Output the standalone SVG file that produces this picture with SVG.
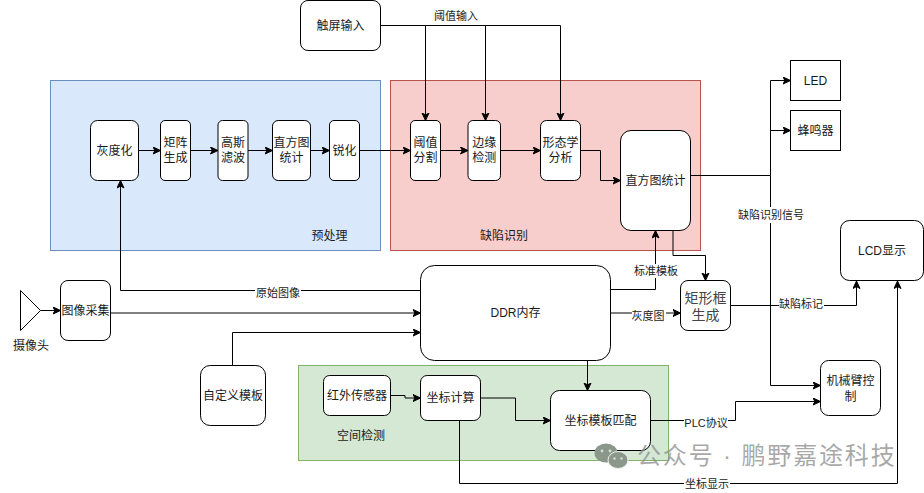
<svg xmlns="http://www.w3.org/2000/svg" width="924" height="493" viewBox="0 0 924 493">
<style>
text{font-family:"Liberation Sans","Noto Sans CJK SC",sans-serif;font-size:12px;fill:#1a1a1a;text-anchor:middle;dominant-baseline:central}
.n{fill:#fff;stroke:#000;stroke-width:1}
.c{fill:none;stroke:#000;stroke-width:1;marker-end:url(#a)}
.l{font-size:11px}
.b{fill:#fff}
.wm{font-size:24px;fill:#8c8c8c;fill-opacity:.75;text-anchor:start;letter-spacing:1.85px}
</style>
<defs>
<marker id="a" markerUnits="userSpaceOnUse" markerWidth="9" markerHeight="9" refX="8" refY="4" orient="auto">
<path d="M0.5,0.5 L8,4 L0.5,7.5 L2.4,4 Z" fill="#000" stroke="#000" stroke-width="1"/>
</marker>
</defs>
<rect id="group-pre" x="50.5" y="80.5" width="330" height="170" fill="#dae8fc" stroke="#6c8ebf"/>
<rect id="group-defect" x="390.5" y="80.5" width="310" height="170" fill="#f8cecc" stroke="#b85450"/>
<rect id="group-space" x="298.5" y="365.5" width="370" height="95" fill="#d5e8d4" stroke="#82b366"/>
<text x="329.5" y="235.5">预处理</text>
<text x="504" y="235.5">缺陷识别</text>
<text x="361" y="436">空间检测</text>
<g id="connectors">
<path class="c" d="M138.5,150.5H160.5"/>
<path class="c" d="M190.5,150.5H218"/>
<path class="c" d="M248,150.5H272.5"/>
<path class="c" d="M310.5,150.5H329.5"/>
<path class="c" d="M359.5,150.5H410.5"/>
<path class="c" d="M440.5,150.5H468"/>
<path class="c" d="M500.5,150.5H540.5"/>
<path class="c" d="M580.5,150.5H600.5V180.5H620.5"/>
<path class="c" d="M380.5,25.5H425.5V120.5"/>
<path class="c" d="M380.5,25.5H485.5V120.5"/>
<path class="c" d="M380.5,25.5H560.5V120.5"/>
<path class="c" d="M690.5,175.5H770.5V80.5H790.5"/>
<path class="c" d="M770.5,130.5H790.5"/>
<path class="c" d="M770.5,175.5V385.5H820.5"/>
<path class="c" d="M673,230.5V255.5H705.5V280.5"/>
<path class="c" d="M610.5,289.5H655.5V230.5"/>
<path class="c" d="M610.5,313H680.5"/>
<path class="c" d="M730.5,305.5H856.5V281"/>
<path class="c" d="M459.5,420.5V483.5H897.5V281"/>
<path class="c" d="M650.5,420.5H735.5V401.5H820.5"/>
<path class="c" d="M587.5,360.5V390.5"/>
<path class="c" d="M480.5,398H515.5V420.5H550.5"/>
<path class="c" d="M390.5,395.5H405V398H420.5"/>
<path class="c" d="M420.5,290.5H120.5V180.5"/>
<path class="c" d="M110.5,313H420.5"/>
<path class="c" d="M232.5,365.5V332.5H420.5"/>
<path class="c" d="M40.5,310.5H60.5"/>
</g>
<g id="labels">
<text class="l" x="456" y="16">阈值输入</text>
<rect class="b" x="738" y="207" width="66" height="16"/><text class="l" x="771" y="215">缺陷识别信号</text>
<rect class="b" x="633" y="264" width="46" height="14"/><text class="l" x="656" y="271">标准模板</text>
<rect class="b" x="632" y="309" width="34" height="14"/><text class="l" x="648" y="316">灰度图</text>
<rect class="b" x="779" y="298" width="45" height="14"/><text class="l" x="801" y="304">缺陷标记</text>
<rect class="b" x="255" y="286" width="46" height="14"/><text class="l" x="278" y="293">原始图像</text>
<rect class="b" x="684" y="477" width="46" height="14"/><text class="l" x="707" y="484">坐标显示</text>
<rect class="b" x="684" y="416" width="44" height="14"/><text class="l" x="706" y="423">PLC协议</text>
</g>
<g id="n-gray"><rect class="n" x="90.5" y="120.5" width="48" height="60" rx="7"/><text x="114.5" y="150.5">灰度化</text></g>
<g id="n-matrix"><rect class="n" x="160.5" y="120.5" width="30" height="60" rx="4.5"/><text x="175.5" y="143">矩阵</text><text x="175.5" y="158">生成</text></g>
<g id="n-gauss"><rect class="n" x="218" y="120.5" width="30" height="60" rx="4.5"/><text x="233" y="143">高斯</text><text x="233" y="158">滤波</text></g>
<g id="n-hist1"><rect class="n" x="272.5" y="120.5" width="38" height="60" rx="5.7"/><text x="291.5" y="143">直方图</text><text x="291.5" y="158">统计</text></g>
<g id="n-sharp"><rect class="n" x="329.5" y="120.5" width="30" height="60" rx="4.5"/><text x="344.5" y="150.5">锐化</text></g>
<g id="n-thresh"><rect class="n" x="410.5" y="120.5" width="30" height="60" rx="4.5"/><text x="425.5" y="143">阈值</text><text x="425.5" y="158">分割</text></g>
<g id="n-edge"><rect class="n" x="468" y="120.5" width="32.5" height="60" rx="4.9"/><text x="484.2" y="143">边缘</text><text x="484.2" y="158">检测</text></g>
<g id="n-morph"><rect class="n" x="540.5" y="120.5" width="40" height="60" rx="6"/><text x="560.5" y="143">形态学</text><text x="560.5" y="158">分析</text></g>
<g id="n-hist2"><rect class="n" x="620.5" y="130.5" width="70" height="100" rx="10.5"/><text x="655.5" y="180.5">直方图统计</text></g>
<g id="n-touch"><rect class="n" x="300.5" y="0.5" width="80" height="50" rx="7.5"/><text x="340.5" y="25.5">触屏输入</text></g>
<g id="n-led"><rect class="n" x="790.5" y="60.5" width="50" height="40"/><text x="815.5" y="80.5">LED</text></g>
<g id="n-buzzer"><rect class="n" x="790.5" y="110.5" width="50" height="40"/><text x="815.5" y="130.5">蜂鸣器</text></g>
<g id="n-lcd"><rect class="n" x="840.5" y="220.5" width="83" height="60" rx="9"/><text x="882" y="250.5">LCD显示</text></g>
<g id="n-rect"><rect class="n" x="680.5" y="280.5" width="50" height="50" rx="7.5"/><text x="705.5" y="298" style="font-size:14px;fill:#444">矩形框</text><text x="705.5" y="315" style="font-size:14px;fill:#444">生成</text></g>
<g id="n-ddr"><rect class="n" x="420.5" y="265.5" width="190" height="95" rx="14"/><text x="515.5" y="313">DDR内存</text></g>
<g id="n-capture"><rect class="n" x="60.5" y="280.5" width="50" height="60" rx="7.5"/><text x="85.5" y="310.5">图像采集</text></g>
<g id="n-camera"><path class="n" d="M20.5,290.5L40.5,310.5L20.5,330.5Z"/><text x="31" y="345.5">摄像头</text></g>
<g id="n-template"><rect class="n" x="200.5" y="365.5" width="65" height="60" rx="9.7"/><text x="233" y="395.5">自定义模板</text></g>
<g id="n-ir"><rect class="n" x="323.5" y="375.5" width="67" height="40" rx="6"/><text x="357" y="395.5">红外传感器</text></g>
<g id="n-coord"><rect class="n" x="420.5" y="375.5" width="60" height="45" rx="6.7"/><text x="450.5" y="398">坐标计算</text></g>
<g id="n-match"><rect class="n" x="550.5" y="390.5" width="100" height="60" rx="9"/><text x="600.5" y="420.5">坐标模板匹配</text></g>
<g id="n-arm"><rect class="n" x="820.5" y="360.5" width="60" height="55" rx="8.2"/><text x="850.5" y="381">机械臂控</text><text x="850.5" y="396.5">制</text></g>
<g id="watermark">
<ellipse cx="606" cy="453" rx="11.5" ry="9.5" fill="#8c978c"/>
<ellipse cx="618" cy="460" rx="10" ry="8.5" fill="#8c978c" stroke="#e8efe8" stroke-width="1"/>
<circle cx="602" cy="451" r="1.4" fill="#d5e0d5"/><circle cx="610" cy="451" r="1.4" fill="#d5e0d5"/>
<circle cx="614.5" cy="458.5" r="1.2" fill="#d5e0d5"/><circle cx="621.5" cy="458.5" r="1.2" fill="#d5e0d5"/>
<text class="wm" x="637" y="455.5">公众号 · 鹏野嘉途科技</text>
</g>
</svg>
